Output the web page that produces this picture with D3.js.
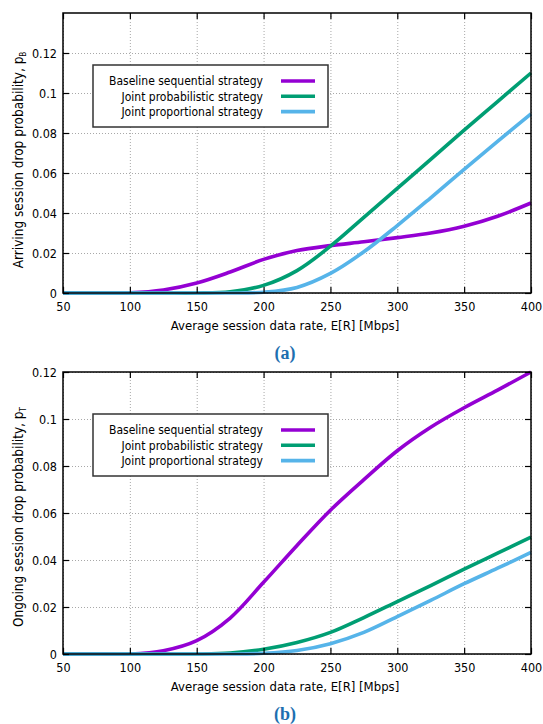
<!DOCTYPE html>
<html lang="en">
<head>
<meta charset="UTF-8">
<title>Session drop probability</title>
<script src="https://d3js.org/d3.v7.min.js"></script>
<style>
    body { margin: 0; background: white; }
    svg text { font-family: "DejaVu Sans Condensed", "DejaVu Sans", sans-serif; font-stretch: condensed; fill: black; }
    .grid line { stroke: #a8a8a8; stroke-width: 1; stroke-dasharray: 1,2; }
    .grid path { stroke: none; }
    .frame { fill: none; stroke: black; stroke-width: 1.5; }
    .axis path { stroke: none; }
    .axis line { stroke: black; stroke-width: 1.2; }
    .axis text { font-size: 12.5px; }
    .caption { font-family: "Liberation Serif", "DejaVu Serif", serif !important; font-weight: bold; font-size: 18px; fill: #1d6fb0 !important; font-stretch: normal !important; }
</style>
</head>
<body>
<svg width="543" height="724"></svg>
<script>
// data rates (Mbps) sampled every 25
var rates = [50, 75, 100, 125, 150, 175, 200, 225, 250, 275, 300, 325, 350, 375, 400];
var xTicks = [50, 100, 150, 200, 250, 300, 350, 400];

// (a) arriving session drop probability
var arrBaseline      = [0, 0, 0.0001, 0.0015, 0.005, 0.0105, 0.0168, 0.0212, 0.0237, 0.0256, 0.0277, 0.0300, 0.0334, 0.0384, 0.045];
var arrProbabilistic = [0, 0, 0, 0, 0, 0.0006, 0.0038, 0.0112, 0.0234, 0.0378, 0.0523, 0.0668, 0.0814, 0.0957, 0.110];
var arrProportional  = [0, 0, 0, 0, 0, 0, 0.0004, 0.0028, 0.0098, 0.0206, 0.0337, 0.0476, 0.0618, 0.0758, 0.0896];
var aTicks = [0, 0.02, 0.04, 0.06, 0.08, 0.1, 0.12];

// (b) ongoing session drop probability
var ongBaseline      = [0, 0, 0, 0.0014, 0.0057, 0.0153, 0.0305, 0.0462, 0.0612, 0.0742, 0.0865, 0.0965, 0.1048, 0.1123, 0.120];
var ongProbabilistic = [0, 0, 0, 0, 0, 0.0004, 0.002, 0.0049, 0.0092, 0.0155, 0.0223, 0.0291, 0.0361, 0.0429, 0.0497];
var ongProportional  = [0, 0, 0, 0, 0, 0, 0.0003, 0.0015, 0.0044, 0.0092, 0.0159, 0.0228, 0.0299, 0.0365, 0.0432];
var bTicks = [0, 0.02, 0.04, 0.06, 0.08, 0.1, 0.12];

var seriesNames = ["Baseline sequential strategy", "Joint probabilistic strategy", "Joint proportional strategy"];
var seriesColors = ["#9400d3", "#009e73", "#56b4e9"];

var svg = d3.select("svg");

function drawPanel(p) {
    var x = d3.scaleLinear().domain([50, 400]).range([p.left, p.right]);
    var y = d3.scaleLinear().domain([0, p.yMax]).range([p.bottom, p.top]);
    var h = p.bottom - p.top, w = p.right - p.left;
    var g = svg.append("g");

    // dotted grid
    g.append("g").attr("class", "grid")
        .attr("transform", "translate(0," + p.bottom + ")")
        .call(d3.axisBottom(x).tickValues(xTicks).tickSize(-h).tickFormat(""));
    g.append("g").attr("class", "grid")
        .attr("transform", "translate(" + p.left + ",0)")
        .call(d3.axisLeft(y).tickValues(p.yTicks).tickSize(-w).tickFormat(""));

    // curves
    var line = d3.line()
        .x(function(d) { return x(d[0]); })
        .y(function(d) { return y(Math.max(0, d[1])); })
        .curve(d3.curveCatmullRom.alpha(0.5));
    p.series.forEach(function(vals, i) {
        g.append("path")
            .datum(rates.map(function(r, j) { return [r, vals[j]]; }))
            .attr("fill", "none")
            .attr("stroke", seriesColors[i])
            .attr("stroke-width", 3.6)
            .attr("d", line);
    });

    // ticks on all four sides, pointing inward
    g.append("g").attr("class", "axis")
        .attr("transform", "translate(0," + p.bottom + ")")
        .call(d3.axisBottom(x).tickValues(xTicks).tickSize(-6).tickPadding(9));
    g.append("g").attr("class", "axis")
        .attr("transform", "translate(0," + p.top + ")")
        .call(d3.axisTop(x).tickValues(xTicks).tickSize(-6).tickFormat(""));
    g.append("g").attr("class", "axis")
        .attr("transform", "translate(" + p.left + ",0)")
        .call(d3.axisLeft(y).tickValues(p.yTicks).tickSize(-6).tickPadding(6).tickFormat(d3.format("~g")));
    g.append("g").attr("class", "axis")
        .attr("transform", "translate(" + p.right + ",0)")
        .call(d3.axisRight(y).tickValues(p.yTicks).tickSize(-6).tickFormat(""));

    g.append("rect").attr("class", "frame")
        .attr("x", p.left).attr("y", p.top).attr("width", w).attr("height", h);

    // legend
    var lg = g.append("g").attr("transform", "translate(" + p.legX + "," + p.legY + ")");
    lg.append("rect")
        .attr("width", 235).attr("height", 62)
        .attr("fill", "white").attr("stroke", "#333").attr("stroke-width", 1.5);
    seriesNames.forEach(function(name, i) {
        var ry = 16 + i * 15.3;
        lg.append("text").attr("x", 170).attr("y", ry).attr("dy", "0.35em")
            .attr("text-anchor", "end").attr("font-size", "12px").text(name);
        lg.append("line").attr("x1", 188).attr("x2", 222).attr("y1", ry).attr("y2", ry)
            .attr("stroke", seriesColors[i]).attr("stroke-width", 3.6);
    });

    // axis titles
    svg.append("text")
        .attr("x", (p.left + p.right) / 2 - 12).attr("y", p.bottom + 37)
        .attr("text-anchor", "middle").attr("font-size", "13px")
        .text("Average session data rate, E[R] [Mbps]");
    var yl = svg.append("text")
        .attr("transform", "translate(23," + p.yLabelMid + ") rotate(-90)")
        .attr("text-anchor", "middle").attr("font-size", "13.5px");
    yl.append("tspan").text(p.yLabel + ", p");
    yl.append("tspan").attr("font-size", "8px").attr("dy", 3).text(p.sub);

    svg.append("text").attr("class", "caption")
        .attr("x", 285).attr("y", p.bottom + 66)
        .attr("text-anchor", "middle").text(p.caption);
}

drawPanel({
    left: 63, right: 531, top: 13, bottom: 293, yMax: 0.14, yTicks: aTicks,
    series: [arrBaseline, arrProbabilistic, arrProportional],
    legX: 93, legY: 65, yLabel: "Arriving session drop probability", sub: "B",
    yLabelMid: 160, caption: "(a)"
});
drawPanel({
    left: 63, right: 531, top: 372, bottom: 654, yMax: 0.12, yTicks: bTicks,
    series: [ongBaseline, ongProbabilistic, ongProportional],
    legX: 93, legY: 414, yLabel: "Ongoing session drop probability", sub: "T",
    yLabelMid: 517, caption: "(b)"
});
</script>
</body>
</html>
